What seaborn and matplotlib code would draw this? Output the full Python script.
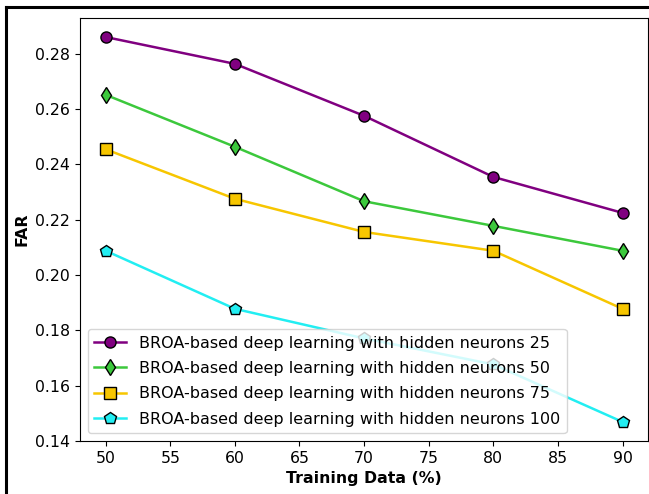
import matplotlib
matplotlib.use("Agg")
import matplotlib.pyplot as plt
import seaborn as sns
import pandas as pd
from matplotlib.lines import Line2D

training = [50, 60, 70, 80, 90]
far_25 = [0.2861, 0.2764, 0.2576, 0.2355, 0.2225]
far_50 = [0.2652, 0.2464, 0.2267, 0.2178, 0.2088]
far_75 = [0.2455, 0.2276, 0.2156, 0.2088, 0.1878]
far_100 = [0.2088, 0.1878, 0.1771, 0.1677, 0.1469]
labels = ["BROA-based deep learning with hidden neurons 25",
          "BROA-based deep learning with hidden neurons 50",
          "BROA-based deep learning with hidden neurons 75",
          "BROA-based deep learning with hidden neurons 100"]

series = [far_25, far_50, far_75, far_100]
colors = ["#800080", "#3cc83c", "#f7c600", "#22eef2"]
markers = ["o", "d", "s", "p"]
msizes = [8, 8, 8, 9]

fig = plt.figure(figsize=(6.49, 4.94), dpi=100)
ax = fig.add_axes([0.123, 0.107, 0.876, 0.857])

for vals, c, m, ms, lab in zip(series, colors, markers, msizes, labels):
    df = pd.DataFrame({"x": training, "y": vals})
    sns.lineplot(data=df, x="x", y="y", ax=ax, color=c, marker=m, markersize=ms,
                 markeredgecolor="black", markeredgewidth=1.0, linewidth=1.8, label=lab)

ax.set_xlabel("Training Data (%)", fontsize=11.3, fontweight="bold")
ax.set_ylabel("FAR", fontsize=11.3, fontweight="bold")
ax.tick_params(labelsize=11.3)
ax.set_yticks([0.14, 0.16, 0.18, 0.20, 0.22, 0.24, 0.26, 0.28])
ax.set_yticklabels(["0.14", "0.16", "0.18", "0.20", "0.22", "0.24", "0.26", "0.28"])
ax.legend(loc="lower left", fontsize=11.5, frameon=True, labelspacing=0.65)

fig.add_artist(Line2D([0.009, 1.0], [0.986, 0.986], transform=fig.transFigure, color="black", linewidth=2.2))
fig.add_artist(Line2D([0.009, 0.009], [0.0, 0.986], transform=fig.transFigure, color="black", linewidth=2.2))

fig.savefig("out.png", dpi=100)
